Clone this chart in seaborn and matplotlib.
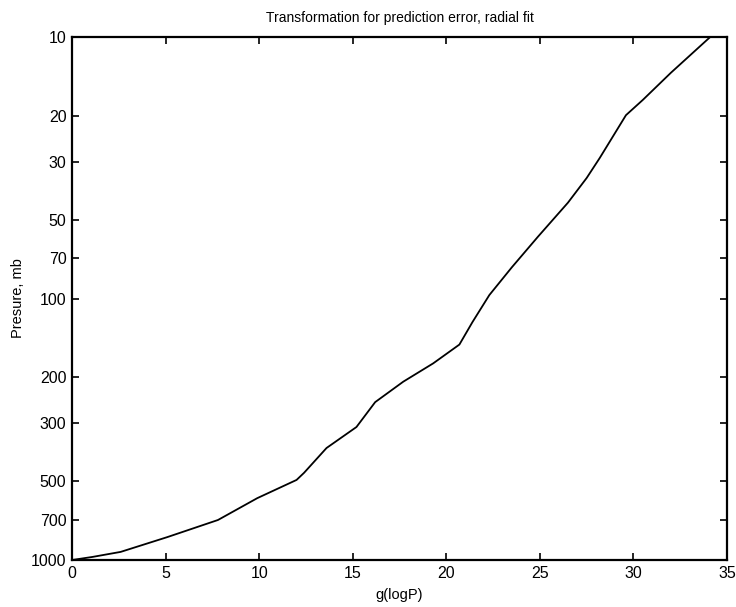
import pandas as pd
import matplotlib
matplotlib.use('Agg')
import matplotlib.pyplot as plt
import matplotlib.ticker as mticker
import seaborn as sns

# curve
g_logp = [0.0, 1.1, 2.6, 5.1, 7.8, 9.9, 12.0, 12.4, 13.6, 15.2, 16.2, 17.7,
          19.3, 20.7, 21.4, 22.3, 23.5, 24.9, 26.5, 27.5, 28.2, 29.6, 30.5,
          32.0, 34.1]
pressure = [1000, 973, 931, 817, 703, 580, 494, 464, 373, 310, 249, 208,
            177, 150, 123, 97, 76, 58, 43, 34.6, 29, 19.9, 17.4, 13.7, 10]
ytick_vals = [10, 20, 30, 50, 70, 100, 200, 300, 500, 700, 1000]

df = pd.DataFrame({'g': g_logp, 'p': pressure})

sns.set_style('ticks')
plt.rcParams['font.family'] = ['Liberation Sans', 'DejaVu Sans']
plt.rcParams['xtick.direction'] = 'in'
plt.rcParams['ytick.direction'] = 'in'
plt.rcParams['text.color'] = 'black'
plt.rcParams['axes.labelcolor'] = 'black'

fig = plt.figure(figsize=(7.36, 6.07), dpi=100)
ax = fig.add_axes([0.0978, 0.0774, 0.89, 0.8616])

sns.lineplot(data=df, x='g', y='p', sort=False, estimator=None,
             color='black', linewidth=1.3, ax=ax)

ax.set_yscale('log')
ax.set_ylim(1000, 10)
ax.set_xlim(0, 35)
ax.set_yticks(ytick_vals)
ax.yaxis.set_major_formatter(mticker.FixedFormatter([str(v) for v in ytick_vals]))
ax.yaxis.set_minor_locator(mticker.NullLocator())
ax.set_xticks(range(0, 36, 5))

ax.tick_params(which='both', top=True, right=True, length=5, width=1.2,
               labelsize=11.5, colors='black', pad=4)
for s in ax.spines.values():
    s.set_linewidth(1.6)
    s.set_color('black')

ax.set_xlabel('g(logP)', fontsize=10.5, labelpad=5)
ax.set_ylabel('Presure, mb', fontsize=10.5, labelpad=4)
ax.set_title('Transformation for prediction error, radial fit', fontsize=10, pad=11)

fig.savefig('out.png', dpi=100)
